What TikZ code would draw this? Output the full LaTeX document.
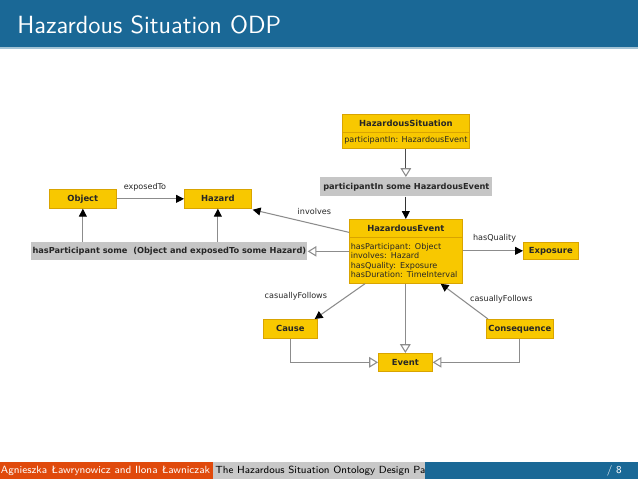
\documentclass[tikz,border=0pt]{standalone}
\usepackage{fontspec}
\newfontfamily\umlfont{DejaVu Sans}
\usetikzlibrary{calc,arrows.meta}
\definecolor{titreBleu}{HTML}{1A6896}
\definecolor{piedRouge}{HTML}{E04A0C}
\definecolor{piedGris}{HTML}{C8C8C8}
\definecolor{classeJaune}{HTML}{F8C800}
\definecolor{classeBord}{HTML}{D9A400}
\definecolor{exprGris}{HTML}{C6C6C6}
\definecolor{lienGris}{HTML}{8C8C8C}
\newcommand{\ux}{0.5708pt}

\begin{document}
\begin{tikzpicture}[x=0.5708pt,y=-0.5708pt,>=Stealth,
    classe/.style={draw=classeBord,fill=classeJaune,inner sep=0pt,anchor=north west,text=black!85,
        font=\umlfont\bfseries\fontsize{4.8}{5.5}\selectfont},
    attr/.style={draw=classeBord,fill=classeJaune,inner sep=0pt,anchor=north west,text=black!85,
        font=\umlfont\fontsize{4.6}{5.4}\selectfont},
    expr/.style={fill=exprGris,inner sep=0pt,anchor=north west,text=black!85,
        font=\umlfont\bfseries\fontsize{4.7}{5.5}\selectfont},
    etiq/.style={font=\umlfont\fontsize{4.6}{5.2}\selectfont,text=black!85},
    lien/.style={draw=lienGris,line width=0.6pt},
    plein/.style={lien,-{Triangle[length=4.5pt,width=4.5pt,black]}},
    creux/.style={lien,-{Triangle[open,length=5pt,width=6pt,fill=white,lienGris]}}]

    % Cadre de la diapositive
    \useasboundingbox (0,0) rectangle (638,479);
    \fill[white] (0,0) rectangle (638,479);
    \fill[titreBleu] (0,0) rectangle (638,47);
    \fill[titreBleu!40] (0,47) rectangle (638,49);
    \node[anchor=west,text=white,inner sep=0pt,font=\sffamily\fontsize{14.2}{16}\selectfont] (titre) at (17,25) {Hazardous Situation ODP};

    % Classes (boites jaunes)
    \node[classe,minimum width=127*\ux,minimum height=18*\ux] (hs) at (342,114) {HazardousSituation};
    \node[attr,minimum width=127*\ux,minimum height=16*\ux] (hsattr) at (342,132) {participantIn: HazardousEvent};
    \node[classe,minimum width=113*\ux,minimum height=18*\ux] (he) at (349,219) {HazardousEvent};
    \node[attr,minimum width=113*\ux,minimum height=46*\ux,text width=110*\ux,align=left] (heattr) at (349,237)
        {hasParticipant: Object\\involves: Hazard\\hasQuality: Exposure\\hasDuration: TimeInterval};
    \node[classe,minimum width=67*\ux,minimum height=19*\ux] (obj) at (49,189) {Object};
    \node[classe,minimum width=67*\ux,minimum height=19*\ux] (haz) at (184,189) {Hazard};
    \node[classe,minimum width=55*\ux,minimum height=17*\ux] (exp) at (523,242) {Exposure};
    \node[classe,minimum width=54*\ux,minimum height=19*\ux] (cause) at (263,319) {Cause};
    \node[classe,minimum width=67*\ux,minimum height=19*\ux] (cons) at (486,319) {Consequence};
    \node[classe,minimum width=54*\ux,minimum height=18*\ux] (ev) at (378,353) {Event};

    % Restrictions (boites grises)
    \node[expr,minimum width=172*\ux,minimum height=19*\ux] (partin) at (320,177) {participantIn some HazardousEvent};
    \node[expr,minimum width=276*\ux,minimum height=18*\ux] (haspart) at (31,242) {hasParticipant some~~(Object and exposedTo some Hazard)};

    % Liens
    \draw[creux,draw=black!70] (hsattr.south) -- (partin.north -| hsattr.south);
    \draw[plein,draw=black!80] (partin.south -| he.north) -- (he.north);
    \draw[plein] (obj.east) -- (haz.west) node[etiq,pos=0.42,above=1pt] {exposedTo};
    \draw[plein] (haspart.north -| obj.south) -- (obj.south);
    \draw[plein] (haspart.north -| haz.south) -- (haz.south);
    \draw[plein] ([yshift=-4*\ux]he.west) -- ([xshift=1*\ux,yshift=-1*\ux]haz.south east) node[etiq,pos=0.36,above=2pt] {involves};
    \draw[creux] (haspart.east -| heattr.west) -- (haspart.east);
    \draw[plein] (exp.west -| heattr.east) -- (exp.west) node[etiq,pos=0,anchor=south west,xshift=4*\ux,yshift=2*\ux] {hasQuality};
    \draw[plein] ([xshift=16*\ux]heattr.south west) -- ([xshift=-3*\ux]cause.north east) node[etiq,pos=0.35,left=8pt] {casuallyFollows};
    \draw[plein] ([xshift=2*\ux]cons.north west) -- ([xshift=-22*\ux]heattr.south east) node[etiq,pos=0.55,right=1pt] {casuallyFollows};
    \draw[creux] (heattr.south -| ev.north) -- (ev.north);
    \draw[creux] (cause.south) |- (ev.west);
    \draw[creux] (cons.south) |- (ev.east);

    % Pied de page
    \fill[piedRouge] (0,462) rectangle (213,479);
    \fill[piedGris] (213,462) rectangle (425,479);
    \node[anchor=west,inner sep=0pt,text=black,font=\sffamily\fontsize{5.9}{7}\selectfont] (titrecourt) at (215,470.5) {The Hazardous Situation Ontology Design Pattern};
    \fill[titreBleu] (425,462) rectangle (638,479);
    \node[text=white,font=\sffamily\fontsize{6}{7}\selectfont] (auteurs) at (105.5,470.5) {Agnieszka Ławrynowicz and Ilona Ławniczak};
    \node[anchor=east,text=white,font=\sffamily\fontsize{6}{7}\selectfont] (page) at (628,470.5) {/ 8};
\end{tikzpicture}
\end{document}
